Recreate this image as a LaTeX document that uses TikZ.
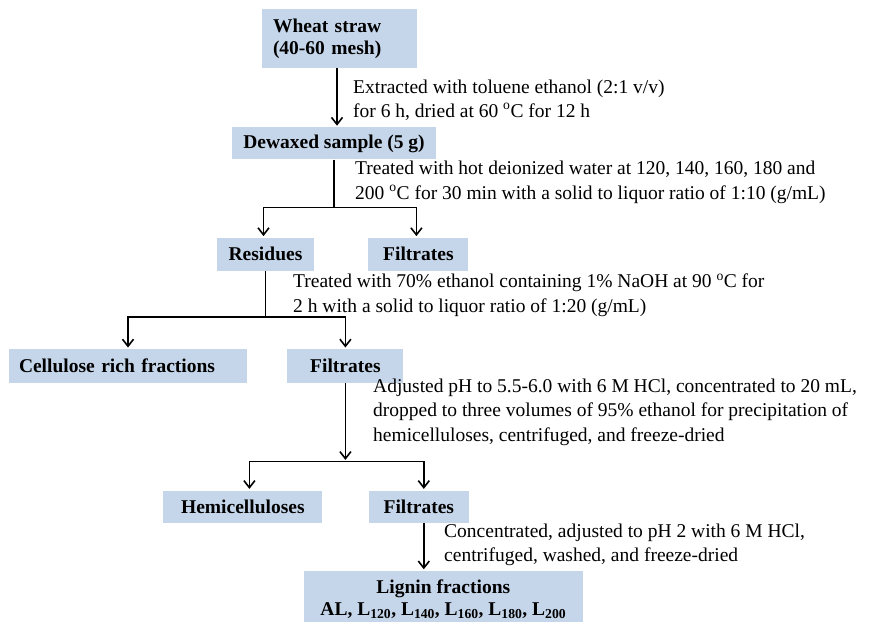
\documentclass[tikz,border=0pt]{standalone}
\usepackage{fontspec}
\setmainfont{Liberation Serif}
\usetikzlibrary{arrows.meta,positioning,calc}
\definecolor{boxblue}{RGB}{198,214,234}
\tikzset{
  box/.style ={fill=boxblue,font=\bfseries\fontsize{19.5}{22}\selectfont,
               minimum height=33pt,inner xsep=10pt,inner ysep=3pt,align=center},
  note/.style={font=\fontsize{19.5}{24.5}\selectfont,align=left,
               inner sep=0pt,anchor=west},
  ln/.style  ={line width=1.6pt},
  ar/.style  ={line width=1.6pt,shorten >=1.5pt,
               -{Straight Barb[length=7pt,width=11pt]}},
}
\newcommand{\dC}{\textsuperscript{o}C}

\begin{document}
\begin{tikzpicture}
\useasboundingbox (0,0) rectangle (872pt,-621pt);
% boxes
\node[box,align=left,text width=133pt,inner xsep=11pt,minimum height=59pt] (W)
  at (339.5pt,-38.5pt) {Wheat straw\\(40-60 mesh)};
\node[box,minimum width=204pt,minimum height=32pt,
  below=59pt of W,xshift=-5.5pt] (D) {Dewaxed sample (5 g)};
\node[box,minimum width=97pt,below=78pt of D,xshift=-68.5pt] (R) {Residues};
\node[box,minimum width=100pt,right=54pt of R] (F1) {Filtrates};
\node[box,align=left,text width=218pt,minimum height=34pt,
  below=78pt of R,xshift=-137.5pt] (C) {Cellulose rich fractions};
\node[box,minimum width=116pt,minimum height=34pt,right=40pt of C] (F2) {Filtrates};
\node[box,minimum width=159pt,minimum height=32pt,
  below=107pt of F2,xshift=-102.5pt] (H) {Hemicelluloses};
\node[box,minimum width=100pt,minimum height=32pt,right=46pt of H] (F3) {Filtrates};
\node[box,minimum width=279pt,minimum height=56pt,
  below=48pt of F3,xshift=24.5pt] (L)
  {Lignin fractions\\AL, L\textsubscript{120}, L\textsubscript{140},
   L\textsubscript{160}, L\textsubscript{180}, L\textsubscript{200}};
% steps
\node[note] (t1) at (353pt,-100pt)
  {Extracted with toluene ethanol (2:1 v/v)\\for 6 h, dried at 60 \dC{} for 12 h};
\node[note] (t2) at (355pt,-182.5pt)
  {Treated with hot deionized water at 120, 140, 160, 180 and\\
   200 \dC{} for 30 min with a solid to liquor ratio of 1:10 (g/mL)};
\node[note] (t3) at (293pt,-295pt)
  {Treated with 70\% ethanol containing 1\% NaOH at 90 \dC{} for\\
   2 h with a solid to liquor ratio of 1:20 (g/mL)};
\node[note] (t4) at (373pt,-412pt)
  {Adjusted pH to 5.5-6.0 with 6 M HCl, concentrated to 20 mL,\\
   dropped to three volumes of 95\% ethanol for precipitation of\\
   hemicelluloses, centrifuged, and freeze-dried};
\node[note] (t5) at (444pt,-545pt)
  {Concentrated, adjusted to pH 2 with 6 M HCl,\\
   centrifuged, washed, and freeze-dried};
% connectors
\coordinate[below=48pt of D] (j1);
\coordinate[below=46pt of R] (j2);
\coordinate[below=78pt of F2] (j3);
\draw[ar] ([xshift=-2.5pt]W.south) -- ([xshift=-2.5pt]W.south |- D.north);
\draw[ln] (D) -- (j1);
\draw[ar] (j1) -| ([xshift=-2pt]R.north); \draw[ar] (j1) -| ([xshift=-2pt]F1.north);
\draw[ln] (R) -- (j2);
\draw[ar] (j2) -| (C); \draw[ar] (j2) -| (F2);
\draw[ar] (F2) -- (j3);
\draw[ar] (j3) -| ([xshift=6.5pt]H.north); \draw[ar] (j3) -| ([xshift=5pt]F3.north);
\draw[ar] ([xshift=5pt]F3.south) -- ([xshift=5pt]F3.south |- L.north);
\end{tikzpicture}
\end{document}
